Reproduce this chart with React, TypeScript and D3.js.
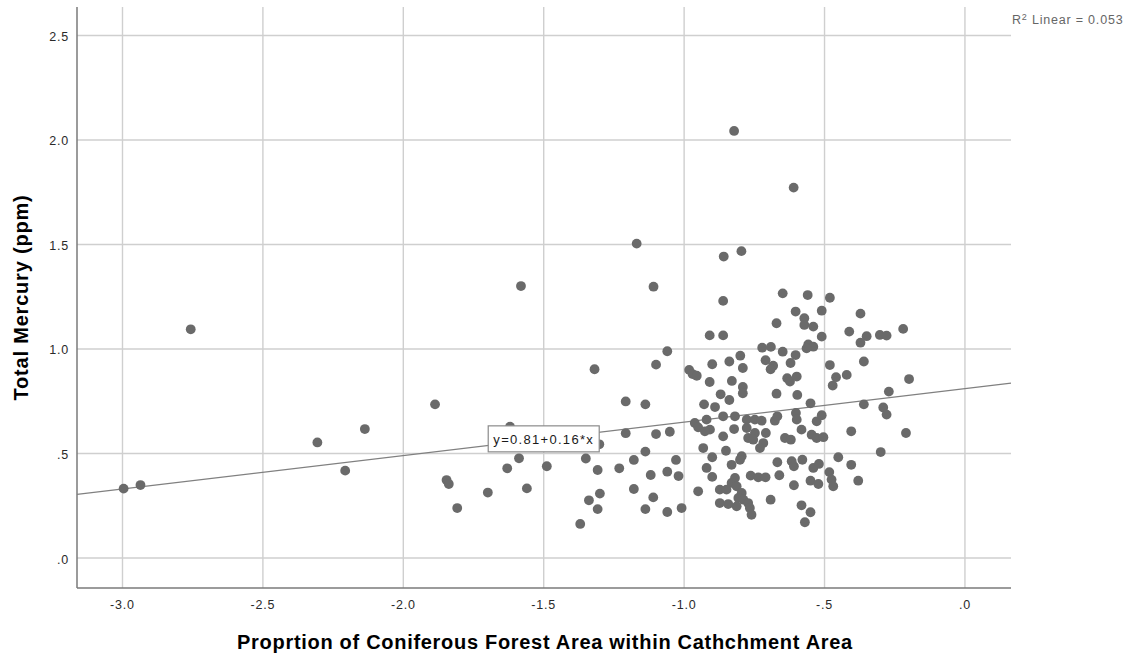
import React from "react";
import { scaleLinear, line } from "d3";

const width = 1135;
const height = 656;
const left = 77;
const right = 1011;
const top = 7;
const bottom = 588;
const font = "'Liberation Sans', Arial, sans-serif";

// proportion of coniferous forest (x) and total mercury in ppm (y)
const coniferous = [
  -2.996, -2.936, -2.757, -2.306, -2.207, -2.137,
  -1.887, -1.846, -1.838, -1.808, -1.699, -1.63, -1.62, -1.588, -1.56, -1.489,
  -1.37, -1.35, -1.339, -1.308, -1.308, -1.3, -1.302, -1.231, -1.208, -1.208,
  -1.179, -1.179, -1.138, -1.138, -1.138, -1.119, -1.11, -1.1, -1.06, -1.06,
  -1.051, -1.029, -1.02, -1.009,
  -0.822, -1.169, -0.859, -0.796, -0.61, -1.581,
  -1.109, -0.861, -0.649, -0.603, -0.671, -0.909, -0.861, -1.06, -1.1, -1.319,
  -0.722, -0.691, -0.649, -0.603, -0.8, -0.839, -0.9, -0.791, -0.71, -0.683,
  -0.692, -0.621, -0.982, -0.97, -0.955, -0.909, -0.83, -0.791, -0.791, -0.87,
  -0.839, -0.671, -0.633, -0.623, -0.599, -0.597, -0.929,
  -0.56, -0.481, -0.51, -0.572, -0.572, -0.54, -0.372, -0.51, -0.412, -0.35,
  -0.372, -0.303, -0.279, -0.22, -0.558, -0.54, -0.564, -0.481, -0.36, -0.421,
  -0.459, -0.471, -0.199, -0.271, -0.55, -0.36,
  -0.89, -0.861, -0.819, -0.962, -0.95, -0.92, -0.908, -0.926, -0.861, -0.822,
  -0.777, -0.748, -0.724, -0.777, -0.772, -0.748, -0.754, -0.709, -0.718, -0.73,
  -0.677, -0.668, -0.641, -0.62, -0.602, -0.599, -0.582, -0.546, -0.528, -0.51,
  -0.528, -0.504, -0.405, -0.932, -0.9, -0.851, -0.795, -0.801, -0.831, -0.92,
  -0.9, -0.763, -0.736, -0.71, -0.668, -0.661, -0.617, -0.609, -0.579, -0.609,
  -0.55, -0.522, -0.54, -0.52, -0.483, -0.475, -0.469, -0.451, -0.405, -0.819,
  -0.831, -0.813, -0.873, -0.849, -0.95, -0.795, -0.807, -0.789, -0.873, -0.843,
  -0.813, -0.772, -0.766, -0.76, -0.692, -0.582, -0.55, -0.57,
  -0.291, -0.279, -0.21, -0.3, -0.38,
];
const mercury = [
  0.332, 0.349, 1.094, 0.553, 0.418, 0.617,
  0.735, 0.373, 0.354, 0.239, 0.313, 0.429, 0.628, 0.477, 0.333, 0.439,
  0.163, 0.476, 0.276, 0.421, 0.234, 0.308, 0.544, 0.429, 0.749, 0.597,
  0.469, 0.33, 0.735, 0.509, 0.234, 0.397, 0.29, 0.593, 0.413, 0.22,
  0.604, 0.469, 0.392, 0.239,
  2.043, 1.504, 1.442, 1.468, 1.772, 1.301,
  1.298, 1.23, 1.266, 1.179, 1.123, 1.065, 1.065, 0.989, 0.925, 0.903,
  1.006, 1.01, 0.987, 0.971, 0.968, 0.94, 0.927, 0.909, 0.946, 0.92,
  0.903, 0.933, 0.9, 0.88, 0.872, 0.842, 0.847, 0.818, 0.788, 0.783,
  0.756, 0.786, 0.86, 0.844, 0.868, 0.78, 0.735,
  1.258, 1.245, 1.183, 1.147, 1.115, 1.107, 1.169, 1.059, 1.083, 1.061,
  1.03, 1.067, 1.064, 1.096, 1.022, 1.011, 1.003, 0.923, 0.94, 0.876,
  0.865, 0.825, 0.856, 0.796, 0.74, 0.735,
  0.722, 0.678, 0.678, 0.646, 0.625, 0.662, 0.614, 0.606, 0.582, 0.617,
  0.662, 0.662, 0.657, 0.622, 0.574, 0.598, 0.566, 0.598, 0.55, 0.526,
  0.657, 0.678, 0.574, 0.566, 0.694, 0.662, 0.614, 0.59, 0.654, 0.683,
  0.574, 0.578, 0.606, 0.526, 0.482, 0.513, 0.487, 0.47, 0.446, 0.431,
  0.388, 0.394, 0.386, 0.386, 0.458, 0.396, 0.463, 0.439, 0.47, 0.348,
  0.37, 0.354, 0.431, 0.45, 0.411, 0.375, 0.343, 0.482, 0.446, 0.383,
  0.359, 0.343, 0.327, 0.327, 0.319, 0.311, 0.287, 0.279, 0.263, 0.258,
  0.247, 0.263, 0.239, 0.207, 0.279, 0.252, 0.219, 0.171,
  0.72, 0.686, 0.598, 0.507, 0.37,
];

const xTicks = [-3, -2.5, -2, -1.5, -1, -0.5, 0];
const xTickLabels = ["-3.0", "-2.5", "-2.0", "-1.5", "-1.0", "-.5", ".0"];
const yTicks = [0, 0.5, 1, 1.5, 2, 2.5];
const yTickLabels = [".0", ".5", "1.0", "1.5", "2.0", "2.5"];

const fitIntercept = 0.81;
const fitSlope = 0.16;
const fitLabel = "y=0.81+0.16*x";
const fitLabelAt = -1.5;
const rSquared = "0.053";

const x = scaleLinear().domain([-3.162, 0.164]).range([left, right]);
const y = scaleLinear().domain([-0.1435, 2.636]).range([bottom, top]);

const fitLine = line<number>()
  .x((d) => x(d))
  .y((d) => y(fitIntercept + fitSlope * d));

const gridColor = "#cfcfcf";

const App = () => {
  const lx = x(fitLabelAt);
  const ly = y(fitIntercept + fitSlope * fitLabelAt);
  return (
    <svg
      width={width}
      height={height}
      style={{ position: "absolute", left: 0, top: 0, background: "#fff" }}
      fontFamily={font}
    >
      {xTicks.map((t) => (
        <line key={"gx" + t} x1={x(t)} x2={x(t)} y1={top} y2={bottom} stroke={gridColor} strokeWidth={1.4} />
      ))}
      {yTicks.map((t) => (
        <line key={"gy" + t} x1={left} x2={right} y1={y(t)} y2={y(t)} stroke={gridColor} strokeWidth={1.4} />
      ))}
      <line x1={left} x2={left} y1={top} y2={bottom} stroke="#7a7a7a" strokeWidth={1.5} />
      <line x1={left} x2={right} y1={bottom} y2={bottom} stroke="#7a7a7a" strokeWidth={1.5} />

      {xTicks.map((t, i) => (
        <text key={"tx" + t} x={x(t)} y={609} textAnchor="middle" fontSize={12.5} letterSpacing={0.8} fill="#2a2a2a">
          {xTickLabels[i]}
        </text>
      ))}
      {yTicks.map((t, i) => (
        <text key={"ty" + t} x={69} y={y(t) + 5.5} textAnchor="end" fontSize={12.5} letterSpacing={0.8} fill="#2a2a2a">
          {yTickLabels[i]}
        </text>
      ))}

      <path d={fitLine(x.domain()) || ""} fill="none" stroke="#808080" strokeWidth={1.2} />

      {coniferous.map((c, i) => (
        <circle key={i} cx={x(c)} cy={y(mercury[i])} r={4.9} fill="#6a6a6a" />
      ))}

      <rect x={lx - 55.5} y={ly - 13} width={111} height={26} fill="#fff" stroke="#8a8a8a" strokeWidth={1.2} />
      <text x={lx} y={ly + 5} textAnchor="middle" fontSize={13} letterSpacing={1.3} fill="#1a1a1a">
        {fitLabel}
      </text>

      <text x={1012} y={24} fontSize={12.5} letterSpacing={0.8} fill="#666">
        R<tspan fontSize={9} dy={-4.5}>2</tspan>
        <tspan dy={4.5}> Linear = {rSquared}</tspan>
      </text>

      <text
        transform={`translate(27.5, 297.5) rotate(-90)`}
        textAnchor="middle"
        fontSize={20}
        fontWeight="bold"
        letterSpacing={0.8}
        fill="#000"
      >
        Total Mercury (ppm)
      </text>
      <text x={545} y={649.3} textAnchor="middle" fontSize={20} fontWeight="bold" letterSpacing={0.7} fill="#000">
        Proprtion of Coniferous Forest Area within Cathchment Area
      </text>
    </svg>
  );
};

export default App;
